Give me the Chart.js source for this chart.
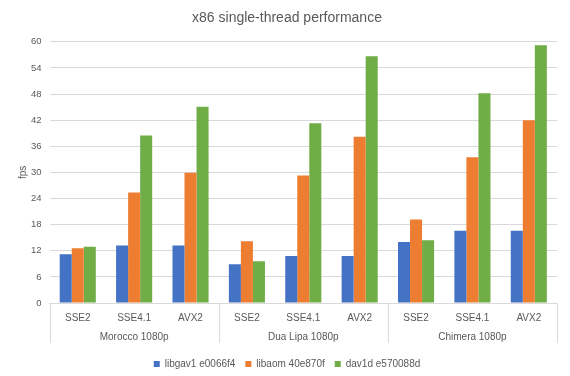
<!DOCTYPE html>
<html>
<head>
<meta charset="utf-8">
<script src="https://cdn.jsdelivr.net/npm/chart.js@4"></script>
<style>
  html, body { margin: 0; padding: 0; background: #fff; }
  #wrap { width: 570px; height: 376px; }
</style>
</head>
<body>
<div id="wrap"><canvas id="chart"></canvas></div>
<script>
// x86 单线程性能（fps）

const groups = ['Morocco 1080p', 'Dua Lipa 1080p', 'Chimera 1080p'];
const simd = ['SSE2', 'SSE4.1', 'AVX2'];
const categories = groups.flatMap(() => simd);

const libgav1 = [11.2, 13.2, 13.2, 8.9, 10.8, 10.8, 14.0, 16.6, 16.6];
const libaom  = [12.6, 25.4, 29.9, 14.2, 29.3, 38.2, 19.2, 33.5, 42.0];
const dav1d   = [12.9, 38.5, 45.1, 9.6, 41.3, 56.7, 14.4, 48.2, 59.2];

const seriesNames = ['libgav1 e0066f4', 'libaom 40e870f', 'dav1d e570088d'];
const seriesColors = ['#4472C4', '#ED7D31', '#70AD47'];

const textColor = '#595959';
const lineColor = '#D9D9D9';
const fontFamily = '"Liberation Sans", Arial, sans-serif';

// 分组分隔线：从绘图区底部画到分组标签下方
const groupSeparators = {
  id: 'groupSeparators',
  afterDraw(chart) {
    const x2 = chart.scales.x2;
    const ctx = chart.ctx;
    ctx.save();
    ctx.strokeStyle = lineColor;
    ctx.lineWidth = 1;
    for (let i = 0; i <= groups.length; i++) {
      const px = Math.round(x2.getPixelForValue(i - 0.5)) + 0.5;
      ctx.beginPath();
      ctx.moveTo(px, chart.chartArea.bottom);
      ctx.lineTo(px, x2.bottom - 6);
      ctx.stroke();
    }
    ctx.restore();
  },
};

const datasets = [libgav1, libaom, dav1d].map((data, i) => ({
  label: seriesNames[i],
  data,
  backgroundColor: seriesColors[i],
  borderWidth: 0,
  categoryPercentage: 0.64,
  barPercentage: 1,
  xAxisID: 'x',
}));

new Chart(document.getElementById('chart'), {
  type: 'bar',
  data: { labels: categories, datasets },
  plugins: [groupSeparators],
  options: {
    responsive: true,
    maintainAspectRatio: false,
    animation: false,
    layout: { padding: { left: 17, right: 13, top: 2, bottom: -3 } },
    plugins: {
      title: {
        display: true,
        text: 'x86 single-thread performance',
        color: textColor,
        font: { family: fontFamily, size: 14, weight: 'normal' },
        padding: { top: 8, bottom: 15 },
      },
      legend: {
        position: 'bottom',
        labels: {
          color: textColor,
          font: { family: fontFamily, size: 10 },
          boxWidth: 6,
          boxHeight: 6,
          padding: 10,
        },
      },
      tooltip: { enabled: false },
    },
    scales: {
      x: {
        position: 'bottom',
        grid: { display: false, tickLength: 8 },
        border: { display: true, color: lineColor },
        ticks: { color: textColor, font: { family: fontFamily, size: 10 }, padding: 1, maxRotation: 0 },
      },
      x2: {
        type: 'category',
        position: 'bottom',
        labels: groups,
        offset: true,
        grid: { display: false, tickLength: 0 },
        border: { display: false },
        ticks: { color: textColor, font: { family: fontFamily, size: 10 }, padding: 6, maxRotation: 0 },
      },
      y: {
        min: 0,
        max: 60,
        ticks: { stepSize: 6, color: textColor, font: { family: fontFamily, size: 9.5 }, padding: 8 },
        grid: { color: lineColor, drawTicks: false },
        border: { display: false },
        title: {
          display: true,
          text: 'fps',
          color: textColor,
          font: { family: fontFamily, size: 10 },
          padding: { top: 0, bottom: -6 },
        },
      },
    },
  },
});
</script>
</body>
</html>
